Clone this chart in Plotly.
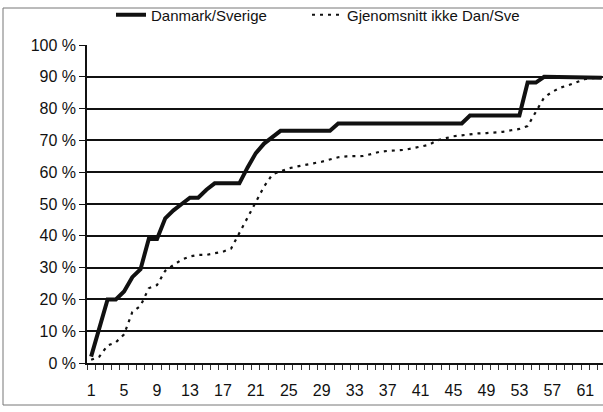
import plotly.graph_objects as go

categories = list(range(1, 64))

danmark_sverige = [
    2, 11, 20, 20, 22.5, 27, 29.5, 39, 39, 45.5,
    48, 50, 52, 52, 54.5, 56.5, 56.5, 56.5, 56.5, 61.5,
    66, 69, 71, 73, 73, 73, 73, 73, 73, 73,
    75.3, 75.3, 75.3, 75.3, 75.3, 75.3, 75.3, 75.3, 75.3, 75.3,
    75.3, 75.3, 75.3, 75.3, 75.3, 75.3, 77.8, 77.8, 77.8, 77.8,
    77.8, 77.8, 77.8, 88.2, 88.2, 90, 90, 90, 90, 90,
    90, 89.7, 89.7,
]

gjennomsnitt = [
    1, 2, 5.5, 6.5, 9, 16, 18, 23.5, 24.5, 29,
    30.8, 32.5, 33.5, 34, 34, 34.5, 35, 36, 41, 46,
    50.5, 55.5, 59.3, 60.3, 61.2, 61.8, 62.4, 62.8, 63.3, 64.1,
    64.7, 65, 65, 65.1, 65.7, 66.4, 66.7, 66.8, 67, 67.5,
    68, 68.6, 70, 70.7, 71.3, 71.6, 72, 72.2, 72.3, 72.5,
    72.7, 73.2, 73.6, 74.5, 79, 83.5, 85.3, 86.6, 87.4, 88.4,
    89.3, 89.6, 89.8,
]

series_names = ["Danmark/Sverige", "Gjenomsnitt ikke Dan/Sve"]
x_tick_values = list(range(1, 62, 4))
y_tick_values = list(range(0, 101, 10))
y_tick_labels = [f"{v} %" for v in y_tick_values]

FONT = "Arial, 'Liberation Sans', sans-serif"

fig = go.Figure()
fig.add_trace(go.Scatter(
    x=categories, y=danmark_sverige, name=series_names[0], mode="lines",
    line=dict(color="#111111", width=4), legend="legend",
))
fig.add_trace(go.Scatter(
    x=categories, y=gjennomsnitt, name=series_names[1], mode="lines",
    line=dict(color="#111111", width=2.2, dash="3px,5px"), legend="legend2",
))

L, T, B = 87, 45, 49
W, H = 603, 412
pw = W - L
ph = H - T - B

def px_x(p):
    return (p - L) / pw

def px_y(p):
    return (H - B - p) / ph

# outer chart border
fig.add_shape(type="rect", xref="paper", yref="paper",
              x0=px_x(3), x1=px_x(640), y0=px_y(405), y1=px_y(8),
              line=dict(color="#777777", width=1), layer="below")

legend_common = dict(
    orientation="h", yanchor="middle", xanchor="left",
    font=dict(family=FONT, size=15, color="#111111"),
    bgcolor="rgba(0,0,0,0)", itemwidth=30,
)

fig.update_layout(
    width=W, height=H,
    margin=dict(l=L, r=0, t=T, b=B, pad=0, autoexpand=False),
    paper_bgcolor="white", plot_bgcolor="white",
    font=dict(family=FONT, size=16, color="#111111"),
    showlegend=True,
    legend=dict(x=px_x(111), y=px_y(15), **legend_common),
    legend2=dict(x=px_x(307), y=px_y(15), **legend_common),
    xaxis=dict(
        range=[0.5, 63.15], tickmode="array", tickvals=x_tick_values,
        ticktext=[str(v) for v in x_tick_values],
        ticks="", showgrid=False, zeroline=False, ticklabelstandoff=12,
        showline=True, linecolor="#111111", linewidth=1.5,
        tickfont=dict(family=FONT, size=16, color="#111111"),
        minor=dict(tickmode="linear", tick0=0.5, dtick=1, ticks="outside",
                   ticklen=5, tickwidth=1, tickcolor="#333333", showgrid=False),
        fixedrange=True, automargin=False,
    ),
    yaxis=dict(
        range=[0, 100], tickmode="array", tickvals=y_tick_values,
        ticktext=y_tick_labels, ticks="outside", ticklen=6, tickwidth=1.2,
        tickcolor="#111111",
        showgrid=True, gridcolor="#111111", gridwidth=1.5,
        zeroline=False, showline=True, linecolor="#111111", linewidth=1.5,
        tickfont=dict(family=FONT, size=16, color="#111111"),
        fixedrange=True, automargin=False,
    ),
)

fig.write_html("out.html", post_script="document.body.style.margin='0';",
               config={"displayModeBar": False})
